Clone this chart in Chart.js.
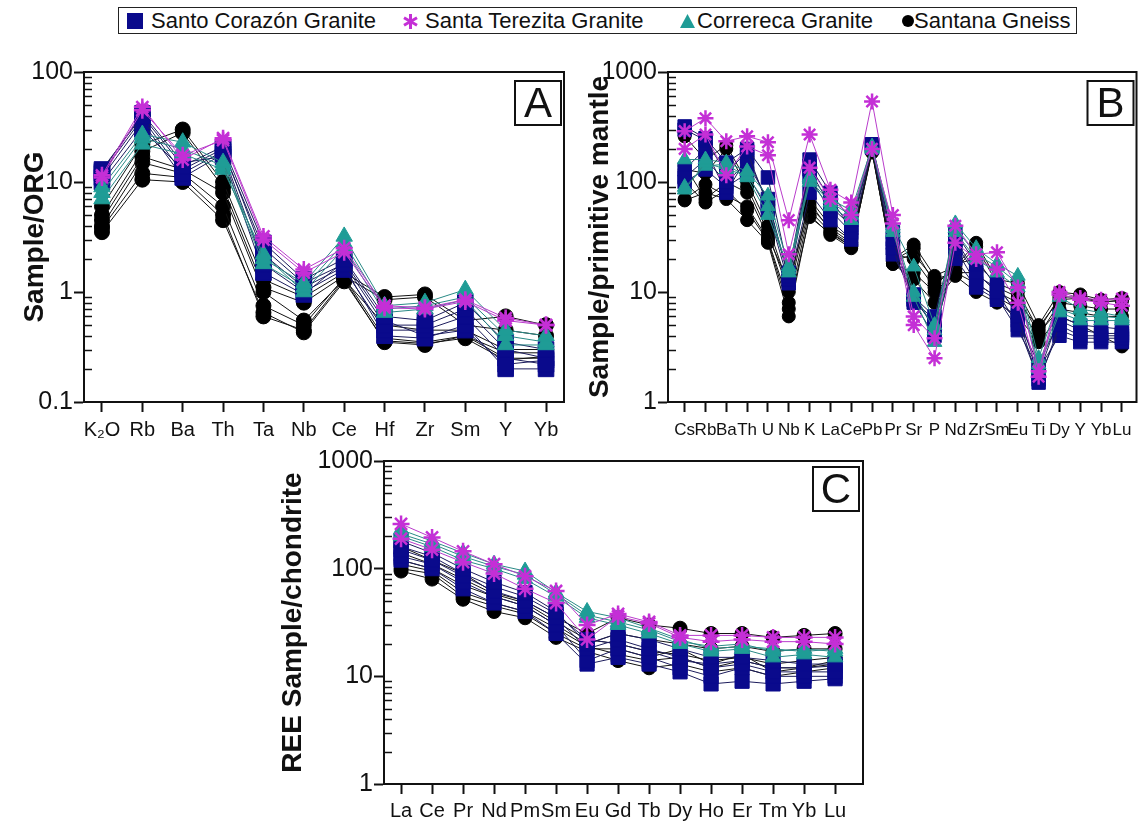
<!DOCTYPE html>
<html>
<head>
<meta charset="utf-8">
<script src="https://cdn.jsdelivr.net/npm/chart.js@4.4.1/dist/chart.umd.min.js"></script>
<style>
  body { margin: 0; background: #fff; width: 1147px; height: 823px; position: relative; overflow: hidden;
         font-family: "Liberation Sans", Arial, sans-serif; color: #111; }
  canvas { position: absolute; }
  #legend { position: absolute; left: 118px; top: 7px; width: 957px; height: 25px; border: 1.5px solid #222; }
  .lg { position: absolute; top: 8px; font-size: 22px; line-height: 26px; white-space: nowrap; }
  .mk { position: absolute; }
</style>
</head>
<body>
<div id="legend"></div>
<svg class="mk" style="left:127px;top:13px" width="16" height="16"><rect width="16" height="16" fill="#0a0a8c"/></svg>
<span class="lg" style="left:151px">Santo Corazón Granite</span>
<svg class="mk" style="left:403px;top:14px" width="15" height="15">
  <g stroke="#c42fd6" stroke-width="3"><line x1="7.5" y1="0" x2="7.5" y2="15"/><line x1="1" y1="3.8" x2="14" y2="11.2"/><line x1="1" y1="11.2" x2="14" y2="3.8"/></g>
</svg>
<span class="lg" style="left:425px">Santa Terezita Granite</span>
<svg class="mk" style="left:680px;top:14px" width="15" height="14"><polygon points="7.5,0 15,14 0,14" fill="#1f9c96"/></svg>
<span class="lg" style="left:697px">Correreca Granite</span>
<svg class="mk" style="left:902px;top:15px" width="12" height="12"><circle cx="6" cy="6" r="6" fill="#000"/></svg>
<span class="lg" style="left:914px">Santana Gneiss</span>

<canvas id="chartA" width="580" height="400" style="left:0;top:50px"></canvas>
<canvas id="chartB" width="572" height="400" style="left:575px;top:50px"></canvas>
<canvas id="chartC" width="610" height="383" style="left:270px;top:440px"></canvas>

<script>
"use strict";

const FONT = '"Liberation Sans", Arial, sans-serif';

// element order on each diagram
const orgElements = ["K₂O", "Rb", "Ba", "Th", "Ta", "Nb", "Ce", "Hf", "Zr", "Sm", "Y", "Yb"];
const mantleElements = ["Cs", "Rb", "Ba", "Th", "U", "Nb", "K", "La", "Ce", "Pb", "Pr", "Sr", "P",
                        "Nd", "Zr", "Sm", "Eu", "Ti", "Dy", "Y", "Yb", "Lu"];
const reeElements = ["La", "Ce", "Pr", "Nd", "Pm", "Sm", "Eu", "Gd", "Tb", "Dy", "Ho", "Er", "Tm", "Yb", "Lu"];

// y tick labels
const orgTicks = [0.1, 1, 10, 100];
const mantleTicks = [1, 10, 100, 1000];
const reeTicks = [1, 10, 100, 1000];

// Sample/ORG
const orgSantoCorazon = [
  [13, 40, 14, 21, 2.8, 1.3, 2.0, 0.6, 0.55, 0.8, 0.35, 0.3],
  [12, 38, 12, 19, 2.5, 1.2, 1.8, 0.5, 0.5, 0.7, 0.3, 0.25],
  [11, 35, 11, 18, 1.8, 1.0, 1.6, 0.45, 0.45, 0.6, 0.25, 0.22],
  [10, 30, 13, 20, 2.2, 1.1, 1.7, 0.4, 0.38, 0.5, 0.2, 0.2],
  [12.5, 42, 15, 17, 1.5, 0.95, 1.9, 0.55, 0.4, 0.45, 0.22, 0.24]
];
const orgSantaTerezita = [
  [11.5, 48, 16, 25, 3.2, 1.6, 2.5, 0.75, 0.72, 0.85, 0.58, 0.5],
  [11, 45, 17.5, 24, 3.0, 1.5, 2.3, 0.72, 0.7, 0.82, 0.55, 0.5]
];
const orgCorrereca = [
  [9, 27, 23, 15, 2.0, 1.2, 3.2, 0.75, 0.8, 1.05, 0.45, 0.4],
  [8, 25, 20, 14, 1.8, 1.1, 2.8, 0.7, 0.75, 0.9, 0.4, 0.35],
  [7, 22, 18, 13, 2.2, 1.0, 2.5, 0.65, 0.7, 0.85, 0.33, 0.33]
];
const orgSantana = [
  [6, 22, 30, 10, 1.3, 0.9, 1.5, 0.9, 0.95, 0.55, 0.6, 0.5],
  [5, 19, 28, 9, 1.1, 0.8, 1.4, 0.85, 0.9, 0.5, 0.45, 0.4],
  [4.5, 17, 13, 8, 1.0, 0.55, 1.3, 0.5, 0.45, 0.45, 0.3, 0.3],
  [4, 15, 12, 6, 0.75, 0.5, 1.35, 0.38, 0.35, 0.4, 0.28, 0.28],
  [3.8, 12, 11, 5, 0.6, 0.45, 1.3, 0.35, 0.33, 0.4, 0.25, 0.25],
  [3.5, 10.5, 10, 4.5, 0.65, 0.43, 1.25, 0.36, 0.34, 0.38, 0.24, 0.26]
];

// Sample/primitive mantle
const mantleSantoCorazon = [
  [320, 250, 150, 200, 110, 15, 160, 80, 45, 220, 35, 9, 6, 35, 18, 12, 6, 1.5, 5, 4, 4, 4],
  [300, 240, 120, 190, 60, 14, 130, 60, 40, 210, 30, 8.5, 5, 30, 15, 10, 5, 1.6, 4.5, 3.8, 3.8, 3.8],
  [110, 160, 100, 150, 70, 13, 110, 55, 35, 215, 25, 8, 4, 25, 12, 9, 4.5, 2.0, 4, 3.5, 3.5, 3.5],
  [100, 130, 90, 120, 55, 12, 80, 45, 30, 205, 22, 9.5, 4.5, 20, 11, 8.5, 5.5, 2.2, 5.5, 4.5, 4.2, 4.2],
  [130, 200, 80, 170, 65, 14, 140, 70, 38, 220, 28, 8.5, 5.5, 28, 14, 11, 6.5, 1.8, 6, 5, 4.8, 4.6]
];
const mantleSantaTerezita = [
  [290, 380, 235, 260, 230, 45, 270, 85, 65, 540, 50, 6, 3.8, 40, 22, 23, 11, 1.9, 10, 8.8, 8.5, 8.7],
  [200, 270, 115, 210, 175, 22, 135, 70, 50, 200, 42, 5, 2.5, 28, 20, 16, 8, 1.7, 9.5, 8.5, 8, 7.5]
];
const mantleCorrereca = [
  [160, 160, 150, 125, 75, 17, 110, 70, 55, 210, 40, 17, 5, 42, 25, 18, 14, 2.5, 9, 7, 6.5, 6],
  [85, 150, 130, 115, 60, 15, 100, 60, 45, 205, 38, 10, 4.5, 38, 22, 17, 12, 2.2, 7, 6, 6, 5.8],
  [90, 140, 145, 110, 50, 16, 105, 65, 50, 200, 35, 9, 3.5, 35, 20, 15, 11, 2.0, 6.5, 5.5, 5.5, 5.5]
];
const mantleSantana = [
  [260, 160, 215, 100, 40, 11, 70, 40, 30, 200, 20, 27, 14, 17, 28, 13, 12, 5, 10, 9.5, 8.5, 8.8],
  [130, 120, 200, 90, 35, 10, 60, 38, 28, 195, 19, 25, 12, 16, 26, 12, 10, 4.5, 9, 9, 8.2, 8.3],
  [70, 95, 75, 60, 30, 8, 55, 35, 26, 190, 18, 15, 10, 15, 12, 9, 7, 4, 8, 7.5, 7, 7],
  [68, 80, 70, 45, 28, 6, 50, 33, 25, 195, 18, 13, 8, 14, 10, 8, 6, 3.5, 6, 5, 4, 3.2],
  [140, 70, 100, 80, 32, 12, 65, 36, 27, 200, 22, 20, 11, 18, 20, 11, 9, 4.2, 7, 6.5, 6, 6],
  [100, 65, 85, 55, 29, 7, 48, 34, 26, 185, 19, 22, 13, 15, 15, 10, 8, 4.8, 8.5, 8.8, 8, 8.5]
];

// REE Sample/chondrite
const reeSantoCorazon = [
  [180, 140, 100, 75, 60, 40, 20, 25, 22, 18, 15, 15, 14, 13, 13],
  [150, 120, 85, 62, 50, 35, 18, 22, 18, 15, 12, 13, 11, 11, 11],
  [130, 110, 75, 55, 45, 30, 14, 18, 15, 12, 10, 12, 10, 10, 10],
  [120, 100, 65, 48, 40, 25, 13, 15, 13, 11, 8.5, 9, 8.5, 9, 9.5],
  [160, 130, 90, 68, 55, 38, 22, 20, 17, 14, 13, 14, 12, 12, 12.5]
];
const reeSantaTerezita = [
  [260, 195, 145, 110, 85, 62, 30, 38, 32, 24, 24, 24, 23, 23, 23],
  [190, 150, 115, 90, 65, 48, 22, 36, 31, 23, 21, 22, 21, 21, 20]
];
const reeCorrereca = [
  [230, 180, 140, 110, 95, 60, 40, 35, 28, 22, 18, 19, 18, 17, 18],
  [200, 160, 120, 100, 80, 55, 35, 30, 25, 20, 17, 18, 15, 16, 15],
  [210, 170, 130, 105, 88, 58, 37, 32, 27, 21, 19, 20, 17, 18, 17]
];
const reeSantana = [
  [160, 120, 90, 60, 50, 35, 25, 35, 30, 28, 25, 25, 23, 24, 25],
  [120, 100, 70, 55, 45, 30, 20, 25, 22, 20, 18, 19, 17, 18, 18],
  [100, 90, 55, 45, 38, 25, 18, 18, 15, 18, 13, 16, 11, 12, 13],
  [95, 80, 52, 40, 35, 23, 17, 14, 12, 13, 11, 12, 10, 11, 12],
  [110, 95, 60, 48, 40, 28, 19, 16, 14, 15, 12, 14, 12, 12, 14],
  [140, 110, 80, 58, 48, 32, 22, 20, 17, 16, 14, 15, 13, 14, 15]
];

// marker look per unit; lower order is drawn on top
const styles = {
  corazon:  { shape: "rect",     fill: "#0a0a8c", line: "#1c1c5c", order: 3 },
  terezita: { shape: "star",     fill: "#c42fd6", line: "#b93ccb", order: 1 },
  correreca:{ shape: "triangle", fill: "#1f9c96", line: "#2a8a86", order: 2 },
  santana:  { shape: "circle",   fill: "#000000", line: "#111111", order: 4 }
};

function buildSets(groups, sizes) {
  const sets = [];
  groups.forEach(([rows, st]) => {
    rows.forEach(row => {
      const star = st.shape === "star";
      sets.push({
        data: row.map((v, i) => ({ x: i, y: v })),
        borderColor: st.line,
        borderWidth: 1,
        pointStyle: st.shape,
        pointRadius: sizes[st.shape],
        pointBackgroundColor: st.fill,
        pointBorderColor: st.fill,
        pointBorderWidth: star ? 2.5 : 1,
        order: st.order
      });
    });
  });
  return sets;
}

// plot frame, inner minor log ticks and the panel letter
const framePlugin = {
  id: "panelFrame",
  afterDraw(chart, args, opts) {
    const { ctx, chartArea: a } = chart;
    const y = chart.scales.y;
    ctx.save();
    ctx.strokeStyle = "#111";
    ctx.lineWidth = 1.5;
    const decades = opts.ticks;
    for (let d = 0; d < decades.length - 1; d++) {
      for (let k = 2; k <= 9; k++) {
        const py = Math.round(y.getPixelForValue(decades[d] * k)) + 0.5;
        ctx.beginPath();
        ctx.moveTo(a.left, py);
        ctx.lineTo(a.left + 8, py);
        ctx.stroke();
      }
    }
    ctx.lineWidth = 2;
    ctx.strokeRect(a.left, a.top, a.right - a.left, a.bottom - a.top);
    const bx = a.right - opts.gapR - 46, by = a.top + opts.gapT;
    ctx.fillStyle = "#fff";
    ctx.fillRect(bx, by, 46, 44);
    ctx.strokeRect(bx, by, 46, 44);
    ctx.fillStyle = "#111";
    ctx.font = "42px " + FONT;
    ctx.textAlign = "center";
    ctx.textBaseline = "middle";
    ctx.fillText(opts.letter, bx + 23, by + 24);
    ctx.restore();
  }
};

function spider(id, cats, ticks, sets, o) {
  return new Chart(document.getElementById(id), {
    type: "line",
    data: { datasets: sets },
    options: {
      responsive: false,
      animation: false,
      events: [],
      layout: { padding: { top: o.padTop, right: o.padRight, left: 0, bottom: 0 } },
      plugins: {
        legend: { display: false },
        tooltip: { enabled: false },
        panelFrame: { letter: o.letter, ticks: ticks, gapR: o.gapR, gapT: o.gapT }
      },
      scales: {
        x: {
          type: "linear",
          min: o.xMin,
          max: o.xMax,
          afterBuildTicks: s => { s.ticks = cats.map((c, i) => ({ value: i })); },
          afterFit: s => { s.height = o.xHeight; },
          ticks: {
            autoSkip: false, maxRotation: 0, padding: o.xPad, color: "#111",
            font: { family: FONT, size: o.xFont },
            callback: v => cats[v]
          },
          grid: { drawOnChartArea: false, tickLength: 10, tickWidth: 2, tickColor: "#111" },
          border: { display: true, width: 2, color: "#111" }
        },
        y: {
          type: "logarithmic",
          min: ticks[0],
          max: ticks[ticks.length - 1],
          afterBuildTicks: s => { s.ticks = ticks.map(v => ({ value: v, major: true })); },
          afterFit: s => { s.width = o.yWidth; },
          ticks: {
            padding: 1, color: "#111",
            font: { family: FONT, size: 25 },
            callback: v => String(v)
          },
          grid: { drawOnChartArea: false, tickLength: 10, tickWidth: 2, tickColor: "#111" },
          border: { display: true, width: 2, color: "#111" },
          title: {
            display: true, text: o.title, color: "#111",
            font: { family: FONT, size: 28, weight: "bold" },
            padding: { top: o.titlePad, bottom: 0 }
          }
        }
      }
    },
    plugins: [framePlugin]
  });
}

spider("chartA", orgElements, orgTicks,
  buildSets([[orgSantana, styles.santana], [orgSantoCorazon, styles.corazon],
             [orgCorrereca, styles.correreca], [orgSantaTerezita, styles.terezita]],
            { rect: 11, circle: 7.5, triangle: 9.5, star: 8.5 }),
  { padTop: 22, padRight: 16, yWidth: 84, xHeight: 48, xMin: -0.445, xMax: 11.445,
    xFont: 20, xPad: 6, title: "Sample/ORG", titlePad: 18, letter: "A", gapR: 3, gapT: 9 });

spider("chartB", mantleElements, mantleTicks,
  buildSets([[mantleSantana, styles.santana], [mantleSantoCorazon, styles.corazon],
             [mantleCorrereca, styles.correreca], [mantleSantaTerezita, styles.terezita]],
            { rect: 9.5, circle: 6.5, triangle: 8.5, star: 8 }),
  { padTop: 22, padRight: 2, yWidth: 93, xHeight: 48, xMin: -0.8, xMax: 21.7,
    xFont: 17, xPad: 8, title: "Sample/primitive mantle", titlePad: 8, letter: "B", gapR: 3, gapT: 9 });

spider("chartC", reeElements, reeTicks,
  buildSets([[reeSantana, styles.santana], [reeSantoCorazon, styles.corazon],
             [reeCorrereca, styles.correreca], [reeSantaTerezita, styles.terezita]],
            { rect: 10, circle: 7, triangle: 9, star: 8.5 }),
  { padTop: 21, padRight: 17, yWidth: 114, xHeight: 39, xMin: -0.55, xMax: 14.9,
    xFont: 20, xPad: 5, title: "REE Sample/chondrite", titlePad: 6, letter: "C", gapR: 4, gapT: 6 });
</script>
</body>
</html>
